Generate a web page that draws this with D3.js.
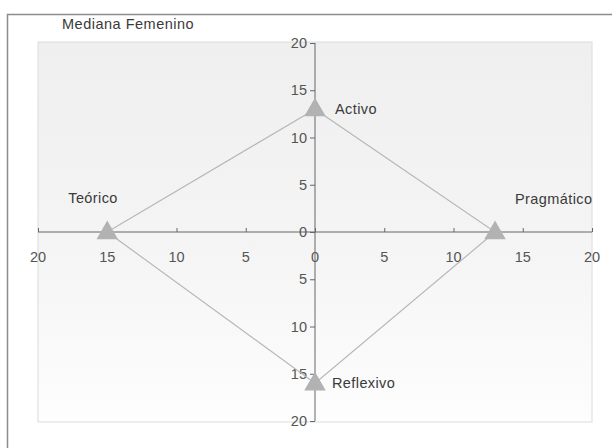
<!DOCTYPE html>
<html>
<head>
<meta charset="utf-8">
<script src="https://cdn.jsdelivr.net/npm/d3@7"></script>
<style>
  body { margin: 0; background: #fff; }
  text { font-family: "Liberation Sans", Arial, sans-serif; fill: #3a3a3a; }
</style>
</head>
<body>
<div id="container"></div>
<script>
// data
var styles = ['Teórico', 'Activo', 'Pragmático', 'Reflexivo'];
var xValues = [-15, 0, 13, 0];
var yValues = [0, 13, 0, -16];
var tickValues = [-20, -15, -10, -5, 0, 5, 10, 15, 20];

var width = 612,
    height = 448;

var svg = d3.select('div#container')
    .append('svg')
    .attr('width', width)
    .attr('height', height);

var defs = svg.append('defs');
var grad = defs.append('linearGradient')
    .attr('id', 'bg')
    .attr('x1', 0).attr('y1', 0).attr('x2', 0).attr('y2', 1);
grad.append('stop').attr('offset', '0%').attr('stop-color', '#efefef');
grad.append('stop').attr('offset', '50%').attr('stop-color', '#f4f4f4');
grad.append('stop').attr('offset', '100%').attr('stop-color', '#fdfdfd');

// outer chart border (runs off the right and bottom edges)
svg.append('rect')
    .attr('x', 7.5).attr('y', 14.5)
    .attr('width', 620).attr('height', 450)
    .attr('fill', 'none')
    .attr('stroke', '#8c8c8c')
    .attr('stroke-width', 1.5);

svg.append('text')
    .attr('x', 62).attr('y', 29)
    .style('font-size', '14.5px')
    .style('letter-spacing', '0.5px')
    .text('Mediana Femenino');

var x = d3.scaleLinear().domain([-20, 20]).range([38, 592]),
    y = d3.scaleLinear().domain([-20, 20]).range([421, 43]);

// plot area
svg.append('rect')
    .attr('x', 38).attr('y', 42)
    .attr('width', 554).attr('height', 380)
    .attr('fill', 'url(#bg)')
    .attr('stroke', '#dcdcdc');

var fmt = function(d) { return Math.abs(d); };

// horizontal axis, ticks pointing up, labels below
var xAxis = svg.append('g')
    .attr('transform', 'translate(0,' + y(0) + ')')
    .call(d3.axisTop(x).tickValues(tickValues).tickSize(4).tickFormat(''));
xAxis.selectAll('line, path').attr('stroke', '#666');
xAxis.select('path').attr('d', 'M' + x(-20) + ',0H' + x(20));

svg.append('g').selectAll('text')
    .data(tickValues)
    .enter().append('text')
    .attr('x', function(d) { return x(d); })
    .attr('y', y(0) + 30)
    .attr('text-anchor', 'middle')
    .style('font-size', '14.5px')
    .style('fill', '#555')
    .text(fmt);

// vertical axis, ticks pointing left
var yAxis = svg.append('g')
    .attr('transform', 'translate(' + x(0) + ',0)')
    .call(d3.axisLeft(y).tickValues(tickValues).tickSize(5).tickPadding(3).tickFormat(fmt));
yAxis.selectAll('line, path').attr('stroke', '#666');
yAxis.select('path').attr('d', 'M0,' + y(20) + 'V' + y(-20));
yAxis.selectAll('text')
    .style('font-size', '14.5px')
    .style('font-family', '"Liberation Sans", Arial, sans-serif')
    .style('fill', '#555');

// closed polygon joining the four styles
var pts = styles.map(function(s, i) { return [x(xValues[i]), y(yValues[i])]; });
svg.append('path')
    .datum(pts)
    .attr('d', d3.line().curve(d3.curveLinearClosed))
    .attr('fill', 'none')
    .attr('stroke', '#b8b8b8')
    .attr('stroke-width', 1.2);

// triangle markers
svg.append('g').selectAll('path')
    .data(pts)
    .enter().append('path')
    .attr('transform', function(d) { return 'translate(' + d[0] + ',' + (d[1] + 1) + ')'; })
    .attr('d', d3.symbol().type(d3.symbolTriangle).size(200))
    .attr('fill', '#b2b2b2');

// point labels
var labelPos = [[-39, -29], [20, 5], [20, -28], [17, 5]];
svg.append('g').selectAll('text')
    .data(pts)
    .enter().append('text')
    .attr('x', function(d, i) { return d[0] + labelPos[i][0]; })
    .attr('y', function(d, i) { return d[1] + labelPos[i][1]; })
    .style('font-size', '14.5px')
    .style('letter-spacing', '0.4px')
    .text(function(d, i) { return styles[i]; });
</script>
</body>
</html>
